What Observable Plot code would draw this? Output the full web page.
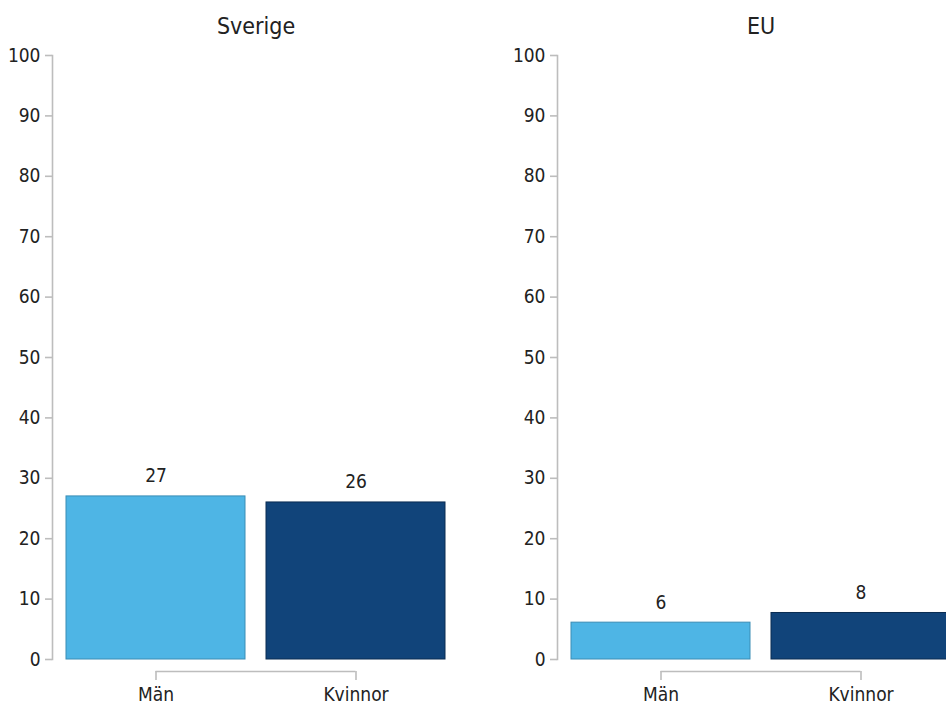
<!DOCTYPE html>
<html>
<head>
<meta charset="utf-8">
<script src="https://cdn.jsdelivr.net/npm/d3@7"></script>
<script src="https://cdn.jsdelivr.net/npm/@observablehq/plot@0.6"></script>
<style>
  body { margin: 0; background: #fff; }
  #wrap { display: flex; width: 946px; height: 709px; overflow: hidden; background: #fff; }
  #wrap svg { flex: none; }
</style>
</head>
<body>
<div id="wrap"></div>
<script>
// ---- data ----
const regions = ["Sverige", "EU"];
const sexes = ["Män", "Kvinnor"];
const sverigeValues = [27, 26];
const euValues = [6.1, 7.7];
const yTicks = [0, 10, 20, 30, 40, 50, 60, 70, 80, 90, 100];
const fillColors = ["#4eb5e5", "#11447a"];
const strokeColors = ["#3b8db5", "#0a2d52"];

// ---- layout ----
const FONT = "'Liberation Sans Narrow', 'DejaVu Sans Condensed', 'Arial Narrow', sans-serif";
const W = 505, H = 709, mL = 52, mR = 46, mT = 55, mB = 38, yInset = 12;
const pInner = 0.105, pOuter = 0.07;
const step = (W - mL - mR) / (sexes.length - pInner + 2 * pOuter);
const bw = step * (1 - pInner);
const gray = "#bdbdbd";

function panel(title, values) {
  const rows = sexes.map((s, i) => ({sex: s, value: values[i], fill: fillColors[i], stroke: strokeColors[i]}));
  return Plot.plot({
    width: W, height: H,
    marginLeft: mL, marginRight: mR, marginTop: mT, marginBottom: mB,
    style: {fontFamily: FONT, fontSize: "19px", color: "#222", background: "#fff", overflow: "visible"},
    x: {domain: sexes, paddingInner: pInner, paddingOuter: pOuter, label: null},
    y: {domain: [0, 100], insetBottom: yInset, label: null},
    marks: [
      Plot.frame({anchor: "left", stroke: gray, strokeWidth: 1.6, insetBottom: yInset}),
      Plot.axisY({ticks: yTicks, tickSize: 7, tickPadding: 5, stroke: gray, strokeWidth: 1.6, label: null, fontSize: 19}),
      Plot.axisX({tickSize: 9, tickPadding: 7, stroke: gray, strokeWidth: 1.6, label: null, fontSize: 19}),
      Plot.ruleY([0], {x1: () => sexes[0], x2: () => sexes[sexes.length - 1], dy: yInset,
        insetLeft: bw / 2, insetRight: bw / 2, stroke: gray, strokeWidth: 1.6}),
      Plot.barY(rows, {x: "sex", y: "value", fill: "fill", stroke: "stroke", strokeWidth: 1}),
      Plot.text(rows, {x: "sex", y: "value", text: d => d3.format(".0f")(d.value),
        lineAnchor: "bottom", dy: -14, fontSize: 19, fill: "#222"}),
      Plot.text([title], {frameAnchor: "top", lineAnchor: "bottom", dy: -22, fontSize: 23, fill: "#222"})
    ]
  });
}

const wrap = document.getElementById("wrap");
wrap.appendChild(panel(regions[0], sverigeValues));
wrap.appendChild(panel(regions[1], euValues));
</script>
</body>
</html>
